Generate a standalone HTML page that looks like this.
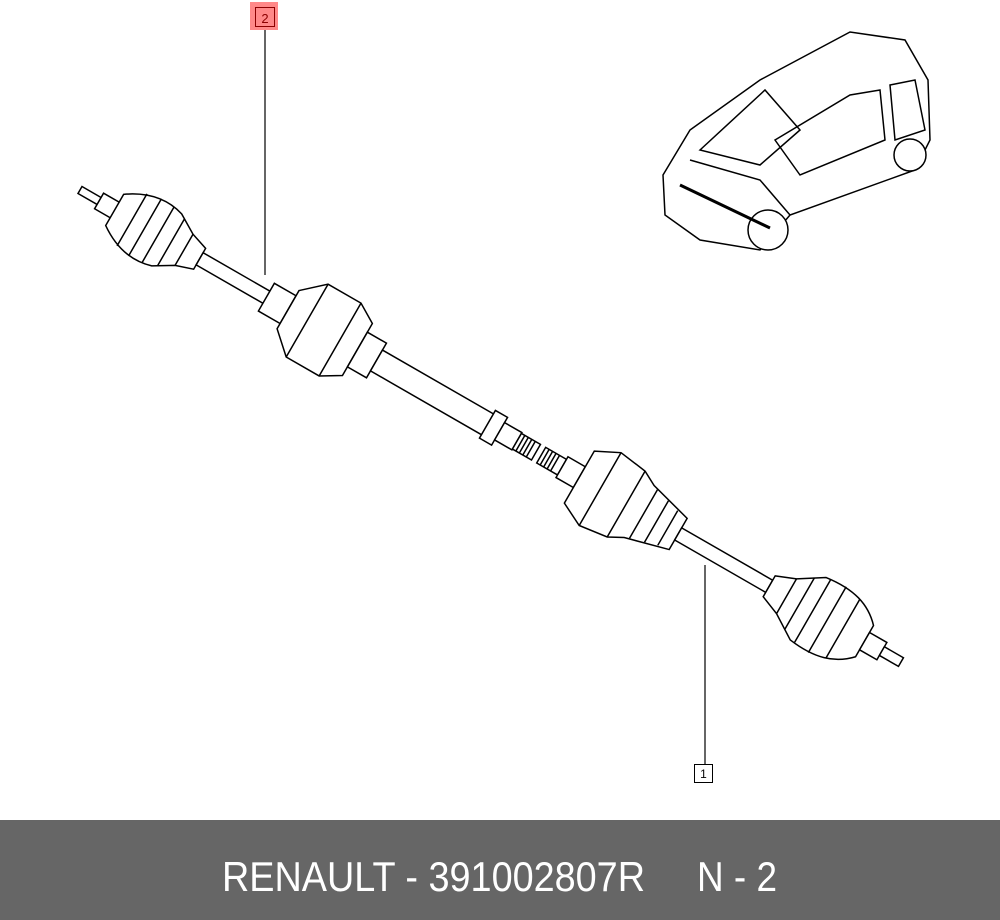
<!DOCTYPE html>
<html><head><style>body{margin:0;background:#fff}svg{display:block}</style></head><body>
<svg width="1000" height="920" viewBox="0 0 1000 920" xmlns="http://www.w3.org/2000/svg">
<rect width="1000" height="920" fill="#fff"/>
<g transform="translate(80,190) rotate(29.9)" stroke="#000" stroke-width="1.5" fill="#fff">
 <rect x="0" y="-4" width="30" height="8"/>
 <rect x="22" y="-9" width="22" height="18"/>
 <path d="M40,-18 C60,-32 80,-36 100,-30 L120,-18 L138,-12 L138,12 L120,18 L100,30 C80,36 60,32 40,18 Z"/>
 <path d="M60,-30 L60,30 M75,-33 L75,33 M90,-32 L90,32 M105,-27 L105,27 M120,-18 L120,18" fill="none"/>
 <rect x="138" y="-7" width="95" height="14"/>
 <rect x="215" y="-16" width="25" height="32"/>
 <path d="M240,-22 L262,-42 L300,-42 L320,-30 L320,30 L300,42 L262,42 L240,22 Z"/>
 <path d="M262,-42 L262,42 M300,-42 L300,42" fill="none"/>
 <rect x="320" y="-20" width="22" height="40"/>
 <rect x="342" y="-12" width="135" height="24"/>
 <rect x="470" y="-16" width="14" height="32"/>
 <rect x="484" y="-10" width="20" height="20"/>
 <rect x="504" y="-9" width="22" height="18"/>
 <path d="M508,-9 V9 M512,-9 V9 M516,-9 V9 M520,-9 V9" fill="none"/>
 <rect x="532" y="-9" width="24" height="18"/>
 <path d="M536,-9 V9 M540,-9 V9 M544,-9 V9 M548,-9 V9" fill="none"/>
 <rect x="556" y="-12" width="20" height="24"/>
 <path d="M576,-30 L600,-42 L630,-38 L645,-30 L690,-18 L690,18 L645,30 L630,38 L600,42 L576,30 Z"/>
 <path d="M600,-42 L600,42 M630,-38 L630,38 M650,-28 V28 M665,-24 V24 M678,-20 V20" fill="none"/>
 <rect x="690" y="-7" width="105" height="14"/>
 <path d="M795,-12 L815,-20 L840,-36 C870,-40 890,-34 905,-18 L905,18 C890,34 870,40 840,36 L815,20 L795,12 Z"/>
 <path d="M815,-20 V20 M830,-30 V30 M845,-36 V36 M862,-38 V38 M880,-34 V34" fill="none"/>
 <rect x="905" y="-10" width="20" height="20"/>
 <rect x="925" y="-5" width="22" height="10"/>
</g>
<g stroke="#000" stroke-width="1.5" fill="#fff">
 <path d="M663,175 L690,130 L760,80 L850,32 L905,40 L928,80 L930,140 L915,170 L790,215 L760,250 L700,240 L665,215 Z"/>
 <path d="M700,150 L765,90 L800,130 L760,165 Z M690,160 L760,180 L790,215 M775,140 L850,95 L880,90 L885,140 L800,175 Z M890,85 L915,80 L925,130 L895,140 Z" fill="none"/>
 <circle cx="768" cy="230" r="20"/><circle cx="910" cy="155" r="16"/>
 <path d="M680,185 L770,228" stroke-width="3" fill="none"/>
</g>
<rect x="250" y="2" width="28" height="28" fill="#ff8888"/>
<rect x="255.5" y="7.5" width="19" height="19" fill="none" stroke="#8b0000" stroke-width="1"/>
<text x="265" y="23" font-family="Liberation Sans,sans-serif" font-size="13" text-anchor="middle" fill="#8b0000">2</text>
<line x1="265" y1="30" x2="265" y2="275" stroke="#000" stroke-width="1.2"/>
<rect x="694.5" y="764.5" width="18" height="18" fill="#fff" stroke="#000"/>
<text x="703.5" y="778" font-family="Liberation Sans,sans-serif" font-size="12" text-anchor="middle">1</text>
<line x1="705" y1="565" x2="705" y2="764" stroke="#000" stroke-width="1.2"/>
<rect x="0" y="820" width="1000" height="100" fill="#666"/>
<text x="222" y="891" font-family="Liberation Sans,sans-serif" font-size="42" fill="#fff" textLength="423" lengthAdjust="spacingAndGlyphs">RENAULT - 391002807R</text>
<text x="697" y="891" font-family="Liberation Sans,sans-serif" font-size="42" fill="#fff" textLength="80" lengthAdjust="spacingAndGlyphs">N - 2</text>
</svg>
</body></html>
